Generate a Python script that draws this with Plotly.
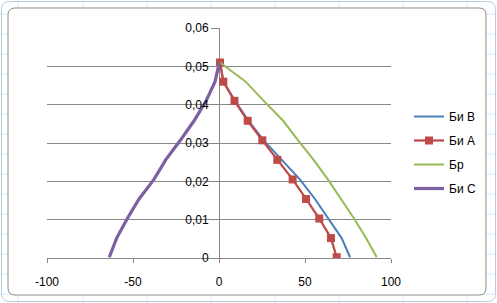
import plotly.graph_objects as go

# ---- data ----
y_levels = [0.051, 0.046, 0.041, 0.0358, 0.0307, 0.0256, 0.0205, 0.0154, 0.0103, 0.0052, 0.0002]
bi_b_x = [0.6, 2.6, 9.3, 17.2, 26.0, 36.4, 47.0, 55.8, 63.5, 71.3, 76.2]
bi_a_x = [0.6, 2.5, 9.0, 16.7, 25.2, 33.9, 42.8, 50.6, 58.3, 65.1, 68.4]
br_x = [0.6, 15.5, 26.0, 37.3, 46.0, 55.0, 63.3, 71.0, 78.5, 85.5, 91.7]
bi_c_x = [0.2, -2.3, -7.5, -14.5, -22.5, -31.0, -37.8, -46.5, -53.3, -59.5, -63.8]

series_names = ["Би B", "Би А", "Бр", "Би С"]
y_tick_vals = [0, 0.01, 0.02, 0.03, 0.04, 0.05, 0.06]
y_tick_text = ["0", "0,01", "0,02", "0,03", "0,04", "0,05", "0,06"]
x_tick_vals = [-100, -50, 0, 50, 100]
x_tick_text = ["-100", "-50", "0", "50", "100"]

W, H = 497, 303
L, R, T, B = 47, 391, 28, 258
PW, PH = R - L, B - T


def px(x):
    return (x - L) / PW


def py(y):
    return (B - y) / PH


FONT = "Liberation Sans, Arial, sans-serif"
GRID = "#878787"

fig = go.Figure()
fig.add_trace(go.Scatter(x=bi_b_x, y=y_levels, mode="lines", name=series_names[0],
                         line=dict(color="#4A7EBB", width=2), legendgroup="a"))
fig.add_trace(go.Scatter(x=bi_a_x, y=y_levels, mode="lines+markers", name=series_names[1],
                         line=dict(color="#BE4B48", width=2.25),
                         marker=dict(symbol="square", size=8, color="#BE4B48"), legendgroup="b"))
fig.add_trace(go.Scatter(x=br_x, y=y_levels, mode="lines", name=series_names[2],
                         line=dict(color="#98B954", width=2), legendgroup="c"))
fig.add_trace(go.Scatter(x=bi_c_x, y=y_levels, mode="lines", name=series_names[3],
                         line=dict(color="#7D60A0", width=3.25), legendgroup="d"))


def rounded(x0, y0, x1, y1, r):
    def P(x, y):
        return f"{px(x):.5f},{py(y):.5f}"
    path = (f"M{P(x0 + r, y0)} L{P(x1 - r, y0)} Q{P(x1, y0)} {P(x1, y0 + r)} "
            f"L{P(x1, y1 - r)} Q{P(x1, y1)} {P(x1 - r, y1)} L{P(x0 + r, y1)} "
            f"Q{P(x0, y1)} {P(x0, y1 - r)} L{P(x0, y0 + r)} Q{P(x0, y0)} {P(x0 + r, y0)} Z")
    return path


shapes = []
for cx in [18, 83, 147, 211, 275, 339, 403, 467]:
    shapes.append(dict(type="line", xref="paper", yref="paper", x0=px(cx), x1=px(cx),
                       y0=py(0), y1=py(H), line=dict(color="#dce6f0", width=1), layer="below"))
for ry in range(14, H, 20):
    shapes.append(dict(type="line", xref="paper", yref="paper", x0=px(0), x1=px(W),
                       y0=py(ry), y1=py(ry), line=dict(color="#dce6f0", width=1), layer="below"))
shapes.append(dict(type="path", xref="paper", yref="paper", path=rounded(1.5, 1.5, 495.5, 301.5, 8),
                   line=dict(color="#b8cde0", width=1), layer="below"))
shapes.append(dict(type="path", xref="paper", yref="paper", path=rounded(8, 8, 486, 295, 7),
                   fillcolor="white", line=dict(color="#8c8c8c", width=1), layer="below"))

fig.update_layout(
    width=W, height=H,
    margin=dict(l=L, r=W - R, t=T, b=H - B, pad=0),
    paper_bgcolor="white", plot_bgcolor="rgba(0,0,0,0)",
    font=dict(family=FONT, size=12, color="black"),
    separators=", ",
    shapes=shapes,
    showlegend=True,
    legend=dict(x=px(409), y=py(102), xanchor="left", yanchor="top",
                font=dict(family=FONT, size=12, color="black"),
                bgcolor="rgba(0,0,0,0)", tracegroupgap=5, traceorder="grouped",
                itemwidth=30),
    xaxis=dict(range=[-100, 100], tickvals=x_tick_vals, ticktext=x_tick_text,
               showgrid=False, zeroline=True, zerolinecolor=GRID, zerolinewidth=1,
               showline=True, linecolor=GRID, linewidth=1,
               ticks="outside", ticklen=4, tickcolor=GRID, ticklabelstandoff=9,
               fixedrange=True),
    yaxis=dict(range=[0, 0.06], tickvals=y_tick_vals, ticktext=y_tick_text,
               showgrid=True, gridcolor=GRID, gridwidth=1, zeroline=False,
               showline=False, anchor="free", position=0.5,
               ticks="outside", ticklen=8, tickcolor=GRID,
               fixedrange=True),
)

fig.write_html("out.html")
